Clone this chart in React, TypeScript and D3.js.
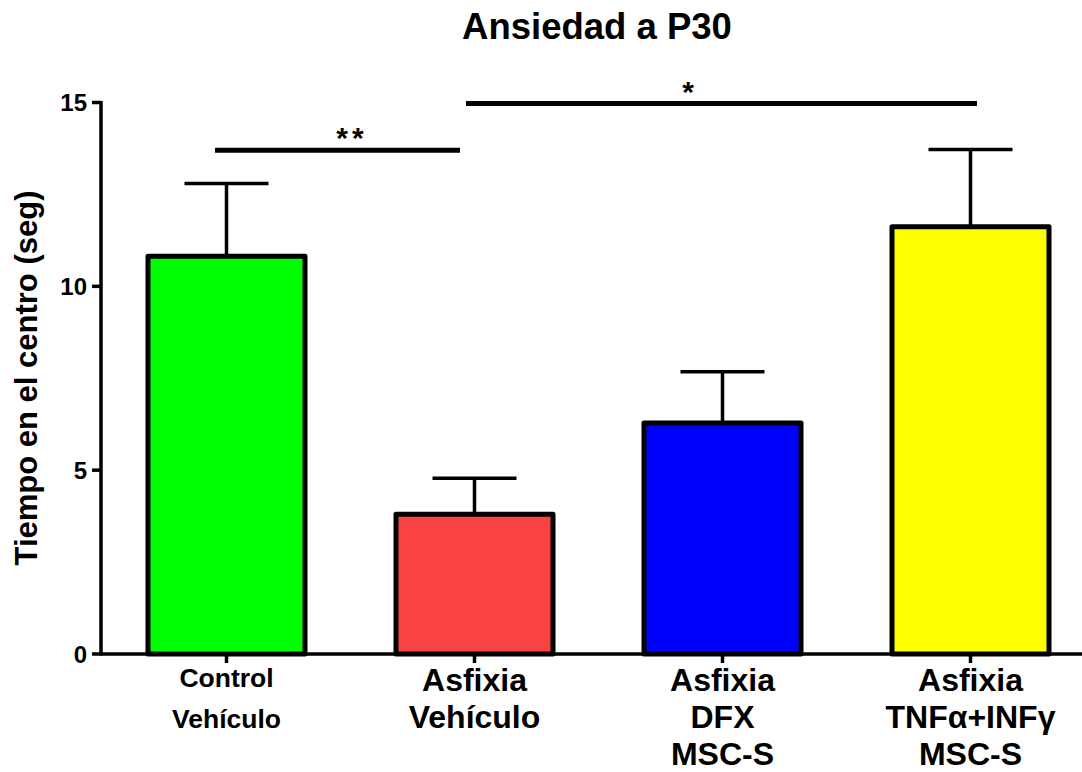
import React from "react";
import * as d3 from "d3";

const categories = ["Control Vehículo", "Asfixia Vehículo", "Asfixia DFX MSC-S", "Asfixia TNFα+INFγ MSC-S"];
const labelLines = [["Control", "Vehículo"], ["Asfixia", "Vehículo"], ["Asfixia", "DFX", "MSC-S"], ["Asfixia", "TNFα+INFγ", "MSC-S"]];
const means = [10.82, 3.8, 6.28, 11.62];
const errors = [1.98, 0.98, 1.4, 2.1];
const colors = ["#00ff00", "#f94242", "#0000ff", "#ffff00"];
const yTicks = [0, 5, 10, 15];
const sigPairs = [
  { from: 0, to: 1, label: "**", level: 13.7 },
  { from: 1, to: 3, label: "*", level: 14.97 },
];

const W = 1082;
const H = 772;
const FONT = "Arial, 'Liberation Sans', Helvetica, sans-serif";

export default function App() {
  const axisX = 101;
  const axisY = 654;
  const y = d3.scaleLinear().domain([0, 15]).range([axisY, 102.5]);
  const x = d3.scalePoint<string>().domain(categories).range([226.5, 970.5]);
  const barW = 157;
  const capW = 84;

  return (
    <svg width={W} height={H} style={{ position: "absolute", left: 0, top: 0, background: "#fff" }}>
      <text x={597} y={39} textAnchor="middle" fontFamily={FONT} fontWeight="bold" fontSize={36.5}>
        Ansiedad a P30
      </text>
      <text
        transform={`translate(37,378) rotate(-90)`}
        textAnchor="middle"
        fontFamily={FONT}
        fontWeight="bold"
        fontSize={31}
      >
        Tiempo en el centro (seg)
      </text>

      {/* error bars */}
      {categories.map((c, i) => {
        const cx = x(c)!;
        return (
          <g key={"e" + i} stroke="#000" strokeWidth={3.5}>
            <line x1={cx} x2={cx} y1={y(means[i])} y2={y(means[i] + errors[i])} />
            <line x1={cx - capW / 2} x2={cx + capW / 2} y1={y(means[i] + errors[i])} y2={y(means[i] + errors[i])} />
          </g>
        );
      })}

      {/* bars */}
      {categories.map((c, i) => {
        const cx = x(c)!;
        return (
          <rect
            key={"b" + i}
            x={cx - barW / 2}
            y={y(means[i])}
            width={barW}
            height={axisY - y(means[i])}
            fill={colors[i]}
            stroke="#000"
            strokeWidth={5}
            strokeLinejoin="round"
          />
        );
      })}

      {/* axes */}
      <line x1={axisX} x2={axisX} y1={y(15) - 1.5} y2={axisY + 1.5} stroke="#000" strokeWidth={3.5} />
      <line x1={axisX} x2={W} y1={axisY} y2={axisY} stroke="#000" strokeWidth={3.5} />
      {yTicks.map((t) => (
        <g key={"yt" + t}>
          <line x1={axisX - 9} x2={axisX} y1={y(t)} y2={y(t)} stroke="#000" strokeWidth={3.5} />
          <text x={87} y={y(t) + 8.5} textAnchor="end" fontFamily={FONT} fontWeight="bold" fontSize={24}>
            {t}
          </text>
        </g>
      ))}
      {categories.map((c, i) => {
        const cx = x(c)!;
        const small = i === 0;
        return (
          <g key={"xt" + i}>
            <line x1={cx} x2={cx} y1={axisY} y2={axisY + 9} stroke="#000" strokeWidth={3.5} />
            {labelLines[i].map((ln, j) => (
              <text
                key={j}
                x={cx}
                y={(small ? 687 : 691) + j * (small ? 41 : 37)}
                textAnchor="middle"
                fontFamily={FONT}
                fontWeight="bold"
                fontSize={small ? 26.5 : 32}
              >
                {ln}
              </text>
            ))}
          </g>
        );
      })}

      {/* significance */}
      {sigPairs.map((s, i) => {
        const x1 = i === 0 ? 215 : 466;
        const x2 = i === 0 ? 460 : 977;
        const yy = y(s.level);
        return (
          <g key={"s" + i}>
            <line x1={x1} x2={x2} y1={yy} y2={yy} stroke="#000" strokeWidth={5} />
            <text
              x={i === 0 ? 352 : 690}
              y={yy - 2}
              textAnchor="middle"
              fontFamily={FONT}
              fontWeight="bold"
              fontSize={30}
              letterSpacing={4}
            >
              {s.label}
            </text>
          </g>
        );
      })}
    </svg>
  );
}
